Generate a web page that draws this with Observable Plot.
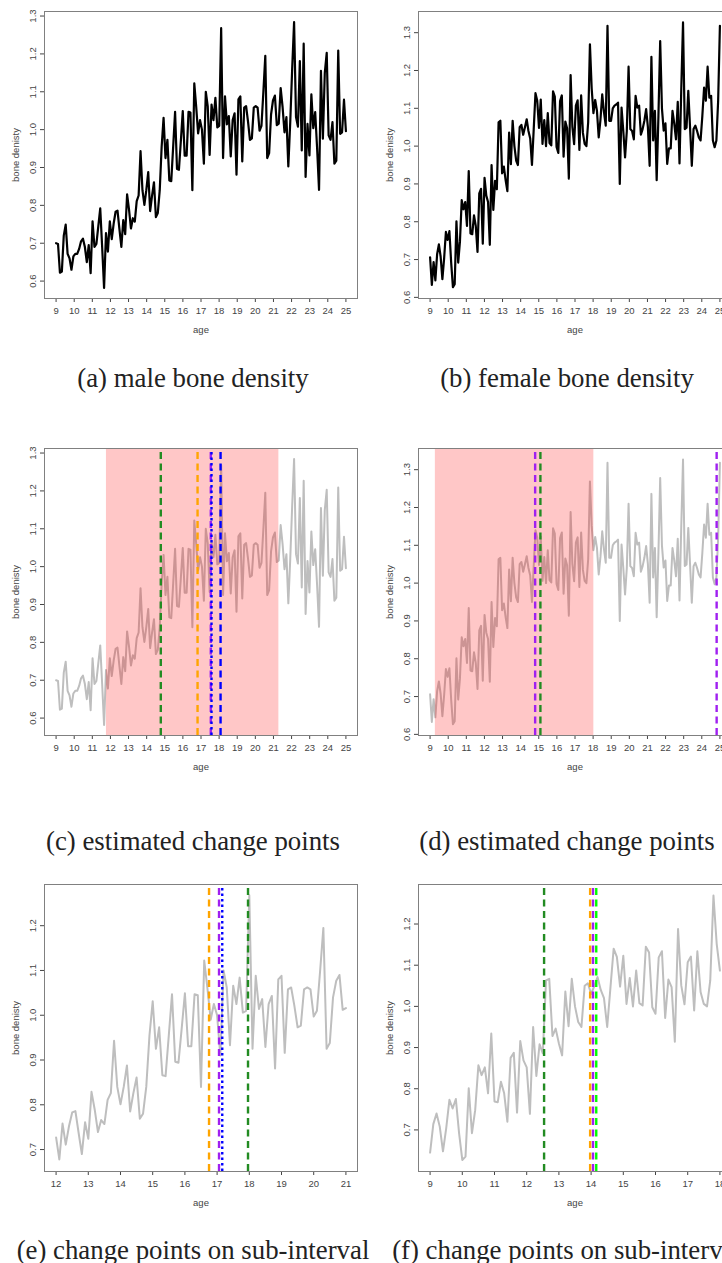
<!DOCTYPE html>
<html>
<head>
<meta charset="utf-8">
<script src="https://cdn.jsdelivr.net/npm/d3@7"></script>
<script src="https://cdn.jsdelivr.net/npm/@observablehq/plot@0.6"></script>
<style>
  html, body { margin: 0; padding: 0; background: #fff; }
  body { width: 722px; height: 1263px; overflow: hidden; position: relative; }
  .panel { position: absolute; width: 361px; height: 340px; }
  .panel svg { max-width: none !important; width: 361px !important; height: 340px !important; }
  .cap { position: absolute; width: 400px; text-align: center; font-family: "Liberation Serif", serif; font-size: 26.8px; color: #222; white-space: nowrap; line-height: 1; }
</style>
</head>
<body>
<div id="root"></div>
<script>
// ---------- data ----------
const maleDensity = [
  0.700, 0.698, 0.622, 0.625, 0.720, 0.749, 0.672, 0.660, 0.630, 0.665,
  0.672, 0.672, 0.685, 0.705, 0.712, 0.690, 0.650, 0.695, 0.621, 0.758,
  0.690, 0.698, 0.745, 0.792, 0.690, 0.582,
  0.727, 0.678, 0.758, 0.711, 0.752, 0.783, 0.786, 0.737, 0.690, 0.761,
  0.724, 0.829, 0.789, 0.739, 0.766, 0.757, 0.811, 0.826, 0.943, 0.840,
  0.801, 0.840, 0.888, 0.785, 0.826, 0.861, 0.769, 0.780, 0.840, 0.955,
  1.031, 0.925, 0.973, 0.866, 0.864, 0.955, 1.047, 0.896, 0.894, 0.970,
  1.049, 0.931, 0.931, 1.047, 1.045, 0.840, 1.122, 1.060, 0.990, 1.025,
  1.000, 0.910, 1.100, 1.062, 0.933, 1.066, 1.025, 1.084, 1.006, 1.010,
  1.268, 0.925, 1.088, 1.014, 1.036, 0.929, 1.025, 1.043, 0.881, 1.080,
  1.088, 0.916, 1.058, 1.062, 1.021, 0.973, 0.977, 1.058, 1.062, 1.058,
  0.997, 1.010, 1.100, 1.195, 0.925, 0.938, 1.040, 1.077, 1.090, 1.012,
  1.016,
  1.110, 1.060, 0.993, 1.033, 0.903, 1.020, 1.160, 1.284, 1.033, 1.008,
  1.181, 0.945, 1.227, 0.875, 1.015, 0.932, 1.093, 1.004, 1.046, 0.950,
  0.841, 1.155, 0.976, 1.150, 1.203, 0.985, 0.973, 1.020, 0.910, 0.918,
  1.209, 0.989, 0.993, 1.079, 0.996
];
const femaleDensity = [
  0.706, 0.633, 0.693,
  0.645, 0.714, 0.740, 0.708, 0.648, 0.704, 0.773, 0.752, 0.775, 0.692,
  0.627, 0.635, 0.801, 0.692, 0.748, 0.857, 0.833, 0.852, 0.789, 0.934,
  0.769, 0.767, 0.817, 0.789, 0.720, 0.875, 0.887, 0.742, 0.916, 0.869,
  0.852, 0.739, 0.950, 0.831, 0.908, 0.886, 1.063, 1.067, 0.928, 0.946,
  0.910, 0.881, 1.036, 0.952, 1.067, 1.000, 0.962, 0.950, 1.050, 1.056,
  1.030, 1.050, 1.071, 1.040, 1.020, 0.950, 1.045, 1.140, 1.120, 1.048,
  1.123, 1.006, 1.069, 1.000, 1.087, 1.008, 1.002, 1.145, 1.131, 0.998,
  0.982, 1.119, 1.134, 0.972, 1.065, 1.047, 0.914, 1.188, 1.051, 1.005,
  1.107, 1.121, 0.990, 1.134, 1.035, 1.006, 1.000, 1.063, 1.269, 1.152,
  1.087,
  1.122, 1.093, 1.023, 1.070, 1.137, 1.090, 1.054, 1.318, 1.067, 1.067,
  1.100, 1.107, 1.110, 1.115, 0.900, 1.102, 1.040, 0.970, 1.040, 1.210,
  1.045, 1.040, 1.018, 1.133, 1.102, 1.107, 1.030, 1.045, 1.067, 1.098,
  1.050, 0.948, 1.236, 1.015, 1.093, 0.910, 1.080, 1.278, 1.100, 1.041,
  1.060, 0.953, 0.994, 0.994, 1.093, 1.060, 1.018, 1.117, 0.954, 1.150,
  1.327, 1.045, 1.049, 1.146, 1.050, 0.948, 1.045, 1.054, 1.040, 1.023,
  1.015, 1.080, 1.155, 1.120, 1.210, 1.128, 1.133, 1.015, 0.997, 1.015,
  1.120, 1.318
];
const ageStart = 9, ageEnd = 25;
const maleSub = {from: 26, to: 117, start: 12};   // sub-interval indices, axis start
const femaleSub = {from: 3, to: 94, start: 9};
const subStep = 0.1;

const maleShade = [11.78, 21.30];
const femaleShade = [9.29, 18.04];

const cpC = [
  {x: 14.78, color: "#228B22", dash: "dash"},
  {x: 16.81, color: "#FFA500", dash: "dash"},
  {x: 17.54, color: "#A020F0", dash: "dash"},
  {x: 17.58, color: "#0000FF", dash: "dot"},
  {x: 18.08, color: "#0000FF", dash: "dash"}
];
const cpD = [
  {x: 14.80, color: "#A020F0", dash: "dash"},
  {x: 15.09, color: "#228B22", dash: "dash"},
  {x: 24.82, color: "#A020F0", dash: "dash"}
];
const cpE = [
  {x: 16.75, color: "#FFA500", dash: "dash"},
  {x: 17.06, color: "#A020F0", dash: "dash"},
  {x: 17.16, color: "#0000FF", dash: "dot"},
  {x: 17.96, color: "#228B22", dash: "dash"}
];
const cpF = [
  {x: 12.54, color: "#228B22", dash: "dash"},
  {x: 13.97, color: "#FFA500", dash: "dash"},
  {x: 14.06, color: "#A020F0", dash: "dash"},
  {x: 14.16, color: "#00FF00", dash: "dash"}
];

const yTicksFull = [0.6, 0.7, 0.8, 0.9, 1.0, 1.1, 1.2, 1.3];
const yTicksSub = [0.7, 0.8, 0.9, 1.0, 1.1, 1.2];
const xTicksFull = d3.range(9, 26);
const xTicksE = d3.range(12, 22);
const xTicksF = d3.range(9, 19);

const captions = [
  "(a) male bone density", "(b) female bone density",
  "(c) estimated change points", "(d) estimated change points",
  "(e) change points on sub-interval", "(f) change points on sub-interval"
];

// ---------- build tables ----------
function fullSeries(vals) {
  const n = vals.length;
  return vals.map((v, i) => ({age: ageStart + i * (ageEnd - ageStart) / (n - 1), v}));
}
function subSeries(vals, sub) {
  return vals.slice(sub.from, sub.to).map((v, j) => ({age: sub.start + j * subStep, v}));
}
const male = fullSeries(maleDensity), female = fullSeries(femaleDensity);
const maleE = subSeries(maleDensity, maleSub), femaleF = subSeries(femaleDensity, femaleSub);

// ---------- layout ----------
const W = 361, H = 340, ML = 44, MR = 4, MT = 11, MB = 42;
const colX = [0, 374];
const rowY = [0, 436.7, 872.7];
const capY = [365, 828, 1237];
const capCX = [193, 567];

const fontAxis = "'Liberation Sans', Arial, sans-serif";
const axisInk = "#444";

function dashArr(d) { return d === "dot" ? "2.5,3" : "7,4.5"; }

function panel({data, xDomain, yDomain, xTicks, yTicks, lineColor, lineWidth, shade, cps}) {
  const marks = [];
  marks.push(Plot.line(data, {x: "age", y: "v", stroke: lineColor, strokeWidth: lineWidth, strokeLinejoin: "round"}));
  if (shade) marks.push(Plot.rect([{x1: shade[0], x2: shade[1]}], {x1: "x1", x2: "x2", fill: "#ff0000", fillOpacity: 0.22}));
  if (cps) {
    for (const c of cps) {
      marks.push(Plot.ruleX([c], {x: "x", y1: yDomain[0], y2: yDomain[1], stroke: c.color, strokeWidth: 2.4, strokeDasharray: dashArr(c.dash)}));
    }
  }
  marks.push(Plot.frame({stroke: "#808080", strokeWidth: 1}));
  marks.push(Plot.text(yTicks, {y: d => d, text: d => d3.format(".1f")(d), frameAnchor: "left", dx: -12, rotate: -90, textAnchor: "middle", lineAnchor: "middle", fill: axisInk, fontSize: 9.5}));
  marks.push(Plot.text(["age"], {frameAnchor: "bottom", dy: 31, lineAnchor: "middle", fill: axisInk, fontSize: 9.5}));
  marks.push(Plot.text(["bone denisty"], {frameAnchor: "left", dx: -29, rotate: -90, textAnchor: "middle", lineAnchor: "middle", fill: axisInk, fontSize: 9.5}));
  return Plot.plot({
    width: W, height: H,
    marginLeft: ML, marginRight: MR, marginTop: MT, marginBottom: MB,
    style: {fontFamily: fontAxis, fontSize: "9.5px", color: axisInk, background: "transparent", overflow: "visible", maxWidth: "none"},
    x: {domain: xDomain, ticks: xTicks, tickFormat: "d", tickSize: 4, tickPadding: 5, label: null},
    y: {domain: yDomain, ticks: yTicks, tickFormat: () => "", tickSize: 4, tickPadding: 2, label: null},
    marks
  });
}

const specs = [
  {data: male, xDomain: [8.36, 25.64], yDomain: [0.554, 1.312], xTicks: xTicksFull, yTicks: yTicksFull, lineColor: "#000", lineWidth: 2.2},
  {data: female, xDomain: [8.36, 25.64], yDomain: [0.597, 1.356], xTicks: xTicksFull, yTicks: yTicksFull, lineColor: "#000", lineWidth: 2.2},
  {data: male, xDomain: [8.36, 25.64], yDomain: [0.554, 1.312], xTicks: xTicksFull, yTicks: yTicksFull, lineColor: "#bebebe", lineWidth: 2, shade: maleShade, cps: cpC},
  {data: female, xDomain: [8.36, 25.64], yDomain: [0.597, 1.356], xTicks: xTicksFull, yTicks: yTicksFull, lineColor: "#bebebe", lineWidth: 2, shade: femaleShade, cps: cpD},
  {data: maleE, xDomain: [11.64, 21.36], yDomain: [0.651, 1.292], xTicks: xTicksE, yTicks: yTicksSub, lineColor: "#bebebe", lineWidth: 2, cps: cpE},
  {data: femaleF, xDomain: [8.64, 18.36], yDomain: [0.599, 1.296], xTicks: xTicksF, yTicks: yTicksSub, lineColor: "#bebebe", lineWidth: 2, cps: cpF}
];

const root = document.getElementById("root");
specs.forEach((s, k) => {
  const col = k % 2, row = Math.floor(k / 2);
  const div = document.createElement("div");
  div.className = "panel";
  div.style.left = colX[col] + "px";
  div.style.top = rowY[row] + "px";
  div.appendChild(panel(s));
  root.appendChild(div);
  const cap = document.createElement("div");
  cap.className = "cap";
  cap.textContent = captions[k];
  cap.style.left = (capCX[col] - 200) + "px";
  cap.style.top = capY[row] + "px";
  root.appendChild(cap);
});
</script>
</body>
</html>
